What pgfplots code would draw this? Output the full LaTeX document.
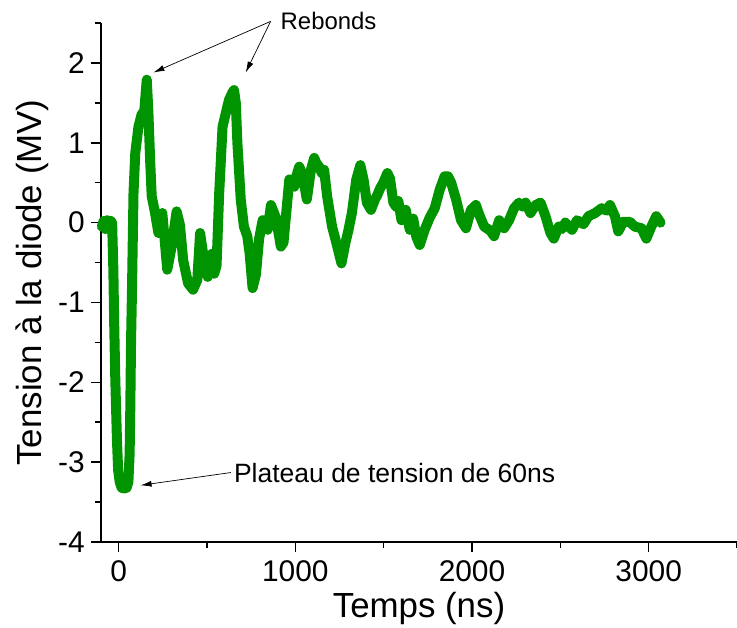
\documentclass[border=0pt]{standalone}
\usepackage{pgfplots}
\pgfplotsset{compat=1.18}
\usepackage{fontspec}
\setmainfont{Liberation Sans}
\usetikzlibrary{arrows.meta}

\definecolor{courbe}{RGB}{0,148,0}

\begin{document}
\begin{tikzpicture}
\begin{axis}[
	at={(0,0)}, anchor=south west,
	scale only axis,
	width=636bp, height=519bp,
	xmin=-100, xmax=3500,
	ymin=-4, ymax=2.5,
	axis lines=left,
	axis line style={-, line width=1.5bp},
	clip=false,
	xtick={0,1000,2000,3000},
	ytick={-4,-3,-2,-1,0,1,2},
	minor xtick={500,1500,2500,3500},
	minor ytick={-3.5,-2.5,-1.5,-0.5,0.5,1.5,2.5},
	tick align=outside,
	major tick length=10bp,
	minor tick length=6bp,
	every tick/.style={black, line width=1.5bp},
	/pgf/number format/assume math mode=true,
	/pgf/number format/1000 sep={},
	scaled x ticks=false,
	xticklabel style={font=\fontsize{30}{36}\selectfont, inner sep=0pt, anchor=north, yshift=-8bp},
	yticklabel style={font=\fontsize{30}{36}\selectfont, inner sep=0pt, anchor=east, xshift=-6bp},
	xlabel={Temps (ns)},
	ylabel={Tension à la diode (MV)},
	label style={font=\fontsize{35}{42}\selectfont, inner sep=0pt},
	xlabel style={at={(axis description cs:0.5,-0.1464)}, anchor=base},
	ylabel style={at={(axis description cs:-0.0928,0.5)}, anchor=base},
]
\addplot[courbe, line width=10bp, line join=round, line cap=round] coordinates {
(-95,-0.05) (-85,0.02) (-75,-0.08) (-65,0.03) (-55,-0.02) (-45,0.02) (-37,0.0)
(-30,-0.6) (-25,-1.3) (-19,-1.97) (-10,-2.7) (-3,-3.1) (6,-3.25) (17,-3.32)
(30,-3.33) (45,-3.32) (55,-3.25) (62,-2.9) (66,-2.3) (70,-1.5) (75,-0.9)
(80,-0.2) (84,0.37) (94,0.87) (112,1.2) (129,1.35) (145,1.4) (159,1.79)
(168,1.4) (178,0.79) (187,0.33) (206,0.12) (225,-0.13) (247,0.12) (257,-0.13)
(275,-0.59) (300,-0.3) (328,0.14) (347,-0.03) (365,-0.47) (393,-0.76)
(421,-0.84) (445,-0.72) (461,-0.13) (476,-0.36) (504,-0.68) (528,-0.39)
(541,-0.64) (554,-0.54) (569,0.37) (588,1.2) (616,1.46) (625,1.54) (644,1.63)
(653,1.66) (663,1.5) (672,1.0) (691,0.29) (709,-0.05) (728,-0.17) (741,-0.38)
(758,-0.82) (777,-0.65) (795,-0.2) (815,0.03) (830,0.0) (843,-0.09) (862,0.22) (890,0.06)
(918,-0.3) (933,-0.25) (966,0.54) (980,0.5) (994,0.45) (1008,0.6) (1022,0.7) (1041,0.6) (1065,0.29)
(1088,0.66) (1107,0.81) (1120,0.74) (1135,0.7) (1150,0.62) (1163,0.66) (1180,0.33) (1208,-0.05)
(1233,-0.26) (1261,-0.51) (1283,-0.26) (1300,-0.1) (1320,0.12) (1345,0.54) (1368,0.72)
(1386,0.54) (1405,0.25) (1428,0.16) (1451,0.29) (1465,0.35) (1480,0.43) (1498,0.5)
(1521,0.62) (1536,0.55) (1555,0.25) (1570,0.2) (1583,0.27) (1601,0.03) (1625,0.16)
(1648,-0.09) (1667,0.05) (1685,-0.18) (1704,-0.28) (1732,-0.09) (1760,0.06)
(1789,0.18) (1817,0.41) (1845,0.58) (1864,0.58) (1882,0.5) (1910,0.29)
(1938,0.03) (1966,-0.07) (1994,0.16) (2022,0.22) (2041,0.1) (2069,-0.05)
(2090,-0.08) (2107,-0.11) (2125,-0.17) (2154,0.03) (2182,-0.07) (2210,0.03) (2238,0.18)
(2266,0.25) (2285,0.2) (2303,0.25) (2331,0.12) (2360,0.22) (2388,0.25) (2416,0.08)
(2444,-0.13) (2463,-0.2) (2491,-0.05) (2510,-0.08) (2528,0.0) (2566,-0.09) (2594,0.03)
(2631,-0.02) (2659,0.08) (2697,0.12) (2734,0.18) (2762,0.15) (2781,0.22)
(2809,0.08) (2828,-0.11) (2856,0.01) (2893,0.01) (2921,-0.05) (2959,-0.07)
(2987,-0.2) (3015,-0.05) (3043,0.08) (3067,0.0)
};
% annotations
\draw[-{Latex[length=11bp,width=6bp]}, line width=0.7bp] (axis cs:860,2.52) -- (axis cs:197,1.88);
\draw[-{Latex[length=11bp,width=6bp]}, line width=0.7bp] (axis cs:860,2.52) -- (axis cs:719,1.88);
\node[anchor=west, inner sep=0pt, font=\fontsize{24}{29}\selectfont] at (axis cs:916,2.52) {Rebonds};
\draw[-{Latex[length=11bp,width=6bp]}, line width=0.7bp] (axis cs:635,-3.13) -- (axis cs:124,-3.29);
\node[anchor=west, inner sep=0pt, font=\fontsize{26.6}{32}\selectfont] at (axis cs:652,-3.13) {Plateau de tension de 60ns};
\end{axis}
\pgfresetboundingbox
\path (-101bp,-86bp) rectangle (636bp,542bp);
\end{tikzpicture}
\end{document}
